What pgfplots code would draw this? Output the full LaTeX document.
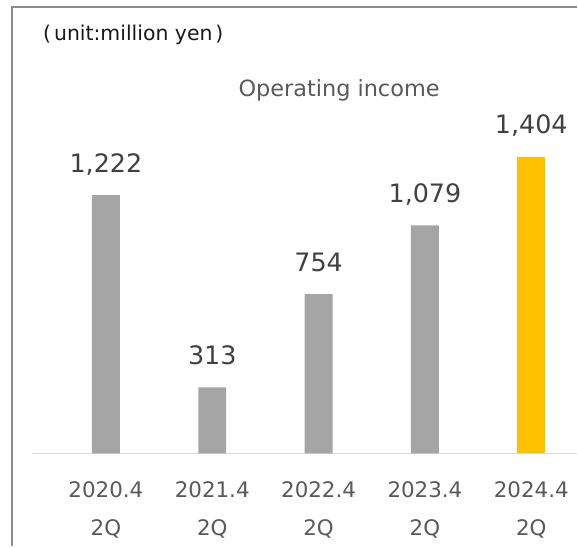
\documentclass[border=0pt]{standalone}
\usepackage{pgfplots}
\pgfplotsset{compat=1.18}
\usepackage{fontspec}
\setmainfont{DejaVu Sans}
\definecolor{bargray}{HTML}{A5A5A5}
\definecolor{baryellow}{HTML}{FFC000}
\definecolor{txt}{HTML}{595959}
\definecolor{lbl}{HTML}{404040}
\definecolor{framec}{HTML}{8C8C8C}
\begin{document}
\begin{tikzpicture}
\begin{axis}[
  scale only axis,
  width=546bp, height=447bp,
  xmin=-0.695, xmax=4.432,
  ymin=0, ymax=2113,
  hide y axis,
  axis x line*=bottom,
  x axis line style={draw=black!15, line width=1pt, -},
  xtick={0,1,2,3,4},
  xticklabels={{2020.4\\2Q},{2021.4\\2Q},{2022.4\\2Q},{2023.4\\2Q},{2024.4\\2Q}},
  x tick label style={align=center, font=\fontsize{21.5}{38}\selectfont, text=txt, yshift=-25bp},
  major tick length=0pt,
  ybar, bar width=28bp, bar shift=0pt,
  nodes near coords,
  /pgf/number format/assume math mode=true,
  /pgf/number format/.cd, 1000 sep={,}, /pgfplots/.cd,
  every node near coord/.append style={anchor=base, yshift=23bp, font=\fontsize{25.5}{30}\selectfont, text=lbl},
  clip=false,
]
\addplot[fill=bargray, draw=none] coordinates {(0,1222) (1,313) (2,754) (3,1079)};
\addplot[fill=baryellow, draw=none] coordinates {(4,1404)};
\end{axis}
\node[anchor=base, font=\fontsize{22.5}{27}\selectfont, text=txt] at (307.5bp,357bp) {Operating income};
\node[anchor=base west, inner sep=0pt, font=\fontsize{20.5}{24}\selectfont, text=black!90] at (11bp,413bp) {(\kern3bp unit:million yen\kern3bp)};
\draw[framec, line width=1.5pt] (-20bp,-93bp) -- (-20bp,447bp) -- (546bp,447bp);
\path[use as bounding box] (-32bp,-93bp) rectangle (546bp,454bp);
\end{tikzpicture}
\end{document}
